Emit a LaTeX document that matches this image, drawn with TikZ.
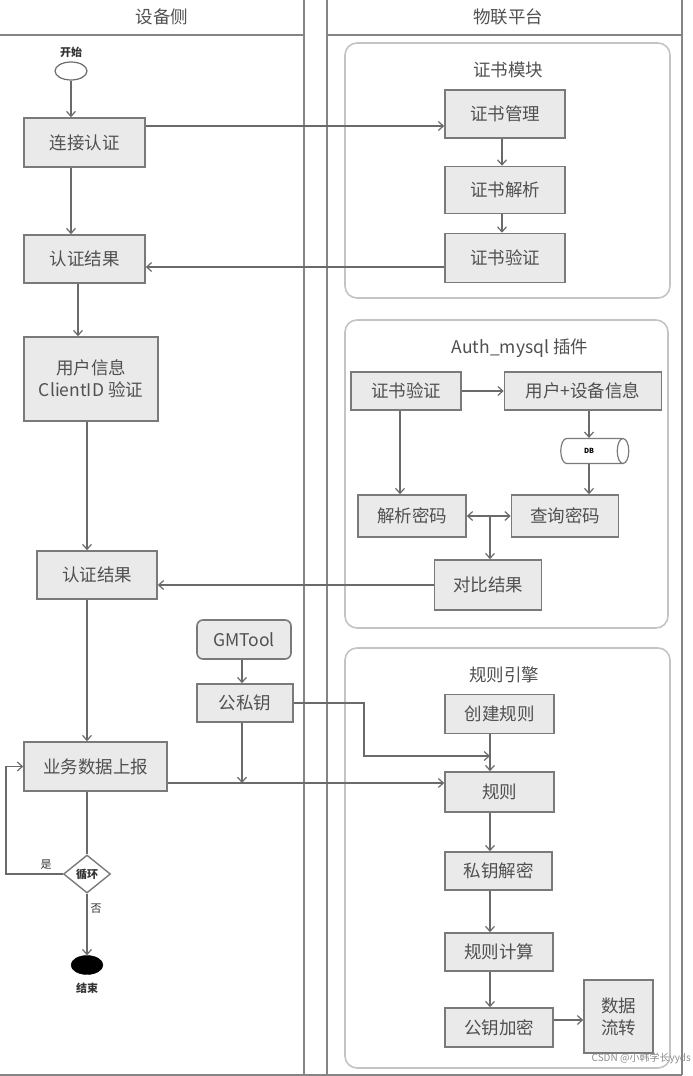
\documentclass[tikz,border=0pt]{standalone}
\usepackage{fontspec}
\setmainfont{Noto Sans CJK SC}
\usetikzlibrary{arrows.meta,shapes.geometric,calc}
\definecolor{boxfill}{HTML}{EAEAEA}
\definecolor{boxline}{HTML}{7A7A7A}
\definecolor{conline}{HTML}{6A6A6A}
\definecolor{txt}{HTML}{505050}
\definecolor{cont}{HTML}{C4C4C4}
\definecolor{laneline}{HTML}{858585}
\tikzset{
  stepbox/.style={draw=boxline, line width=1.6pt, fill=boxfill, text=txt, inner sep=2pt, align=center,
    font=\fontsize{17.5}{22}\selectfont},
  container/.style={draw=cont, line width=1.6pt, rounded corners=12pt},
  ctitle/.style={text=txt, font=\fontsize{17.5}{20}\selectfont},
  lanehead/.style={text=txt, font=\fontsize{17.5}{20}\selectfont},
  lane/.style={draw=laneline, line width=1.3pt},
  arr/.style={draw=conline, line width=1.3pt, -{Straight Barb[length=5pt,width=9pt,line width=1.2pt]}},
  darr/.style={draw=conline, line width=1.3pt, {Straight Barb[length=5pt,width=9pt,line width=1.2pt]}-{Straight Barb[length=5pt,width=9pt,line width=1.2pt]}},
  plain/.style={draw=conline, line width=1.3pt},
  small/.style={text=black!80, font=\bfseries\fontsize{11}{13}\selectfont},
}
\begin{document}
\begin{tikzpicture}[x=1pt,y=-1pt]
\useasboundingbox (0,0) rectangle (693,1076);
% lanes
\draw[lane] (0,35) -- (304,35);
\draw[lane] (304,0) -- (304,1075);
\draw[lane] (327,0) -- (327,1075);
\draw[lane] (327,35) -- (682,35);
\draw[lane] (682,0) -- (682,1075);
\draw[lane] (0,1075) -- (682,1075);
\node[lanehead] (h1) at (162,17) {设备侧};
\node[lanehead] (h2) at (508,17) {物联平台};

% helper coordinates
\coordinate (c6) at (6,0);
\coordinate (c78) at (78,0);
\coordinate (c87) at (87,0);
\coordinate (c242) at (242,0);
\coordinate (c364) at (364,0);
\coordinate (c400) at (400,0);
\coordinate (c490) at (490,0);
\coordinate (c502) at (502,0);
\coordinate (c589) at (589,0);
\coordinate (r126) at (0,126);
\coordinate (r267) at (0,267);
\coordinate (r756) at (0,756);
\coordinate (r783) at (0,783);
\coordinate (r1020) at (0,1020);

% containers
\draw[container] (345,43) rectangle (670,298);
\node[ctitle] (cmt) at (508,70) {证书模块};
\draw[container] (345,320) rectangle (668,628);
\node[ctitle] (amt) at (520,348) {Auth\_mysql 插件};
\draw[container] (345,648) rectangle (670,1068);
\node[ctitle] (ret) at (504,675) {规则引擎};

% left lane nodes
\node[draw=conline, line width=1.2pt, fill=white, ellipse, minimum width=32pt, minimum height=18pt, inner sep=0pt] (start) at (71,71) {};
\node[small] (startl) at (71,52) {开始};
\node[stepbox, minimum width=121pt, minimum height=49pt] (conn) at (84.5,142.5) {连接认证};
\node[stepbox, minimum width=121pt, minimum height=48pt] (res1) at (84.5,259) {认证结果};
\node[stepbox, minimum width=134pt, minimum height=84pt] (user) at (91,379) {用户信息\\ClientID 验证};
\node[stepbox, minimum width=120pt, minimum height=48pt] (res2) at (97,575) {认证结果};
\node[stepbox, rounded corners=6pt, minimum width=94pt, minimum height=39pt] (gmt) at (244,639.5) {GMTool};
\node[stepbox, minimum width=96pt, minimum height=38pt] (key) at (245,703) {公私钥};
\node[stepbox, minimum width=143pt, minimum height=49pt] (biz) at (95.5,766.5) {业务数据上报};
\node[draw=boxline, line width=1.4pt, fill=white, diamond, minimum width=47pt, minimum height=38pt, inner sep=0pt, small] (loop) at (87,874) {循环};
\node[draw=black, fill=black, ellipse, minimum width=32pt, minimum height=19pt, inner sep=0pt] (end) at (87,965) {};
\node[small] (endl) at (87,988) {结束};
\node[small, font=\fontsize{11}{13}\selectfont] (yes) at (46,865) {是};
\node[small, font=\fontsize{11}{13}\selectfont] (no) at (96,909) {否};

% certificate module
\node[stepbox, minimum width=120pt, minimum height=48pt] (cmgr) at (505,114) {证书管理};
\node[stepbox, minimum width=120pt, minimum height=47pt] (cparse) at (505,190) {证书解析};
\node[stepbox, minimum width=120pt, minimum height=49pt] (cver) at (505,258) {证书验证};

% auth mysql
\node[draw=boxline, line width=1.2pt, fill=white, cylinder, shape aspect=0.6, minimum width=25pt, minimum height=68pt, inner xsep=0pt, inner ysep=7pt, font=\bfseries\fontsize{7}{8}\selectfont] (db) at (589,451) {DB};
\node[stepbox, minimum width=110pt, minimum height=38pt] (aver) at (406,391) {证书验证};
\node[stepbox, minimum width=157pt, minimum height=38pt] (uinfo) at (583,391) {用户+设备信息};
\node[stepbox, minimum width=108pt, minimum height=42pt] (pparse) at (412,516) {解析密码};
\node[stepbox, minimum width=107pt, minimum height=42pt] (pquery) at (565,516) {查询密码};
\node[stepbox, minimum width=107pt, minimum height=50pt] (cmp) at (488,585) {对比结果};

% rule engine
\node[stepbox, minimum width=109pt, minimum height=39pt] (rcreate) at (499.5,714) {创建规则};
\node[stepbox, minimum width=109pt, minimum height=40pt] (rule) at (499.5,792) {规则};
\node[stepbox, minimum width=107pt, minimum height=38pt] (pdec) at (498.5,871) {私钥解密};
\node[stepbox, minimum width=108pt, minimum height=38pt] (rcalc) at (499,952) {规则计算};
\node[stepbox, minimum width=108pt, minimum height=39pt] (penc) at (499,1027.5) {公钥加密};
\node[stepbox, minimum width=69pt, minimum height=73pt] (flow) at (618.5,1016.5) {数据\\流转};

% connectors left lane
\draw[arr] (start.south) -- (start.south |- conn.north);
\draw[arr] (start.south |- conn.south) -- (start.south |- res1.north);
\draw[arr] (c78 |- res1.south) -- (c78 |- user.north);
\draw[arr] (c87 |- user.south) -- (c87 |- res2.north);
\draw[arr] (c87 |- res2.south) -- (c87 |- biz.north);
\draw[plain] (c87 |- biz.south) -- (loop.north);
\draw[arr] (loop.south) -- (end.north);
\draw[arr] (loop.west) -- (c6 |- loop.west) |- (biz.west);
\draw[arr] (gmt.south -| c242) -- (key.north -| c242);

% cross-lane
\draw[arr] (conn.east |- r126) -- (cmgr.west |- r126);
\draw[arr] (c502 |- cmgr.south) -- (c502 |- cparse.north);
\draw[arr] (c502 |- cparse.south) -- (c502 |- cver.north);
\draw[arr] (cver.west |- r267) -- (res1.east |- r267);

\draw[arr] (aver.east) -- (uinfo.west);
\draw[arr] (c589 |- uinfo.south) -- (c589 |- db.north);
\draw[arr] (c589 |- db.south) -- (c589 |- pquery.north);
\draw[arr] (c400 |- aver.south) -- (c400 |- pparse.north);
\draw[darr] (pparse.east) -- (pquery.west);
\draw[arr] (c490 |- pparse.east) -- (c490 |- cmp.north);
\draw[arr] (cmp.west) -- (res2.east |- cmp.west);

\draw[arr] (c242 |- key.south) -- (c242 |- r783);
\draw[arr] (biz.east |- r783) -- (rule.west |- r783);
\draw[arr] (key.east) -- (c364 |- key.east) |- (c490 |- r756);
\draw[arr] (c490 |- rcreate.south) -- (c490 |- rule.north);
\draw[arr] (c490 |- rule.south) -- (c490 |- pdec.north);
\draw[arr] (c490 |- pdec.south) -- (c490 |- rcalc.north);
\draw[arr] (c490 |- rcalc.south) -- (c490 |- penc.north);
\draw[arr] (penc.east |- r1020) -- (flow.west |- r1020);

% watermark
\node[anchor=east, text=black!45, font=\fontsize{10}{12}\selectfont, inner sep=1pt] (wm) at (692,1058) {CSDN @小韩学长yyds};
\end{tikzpicture}
\end{document}
